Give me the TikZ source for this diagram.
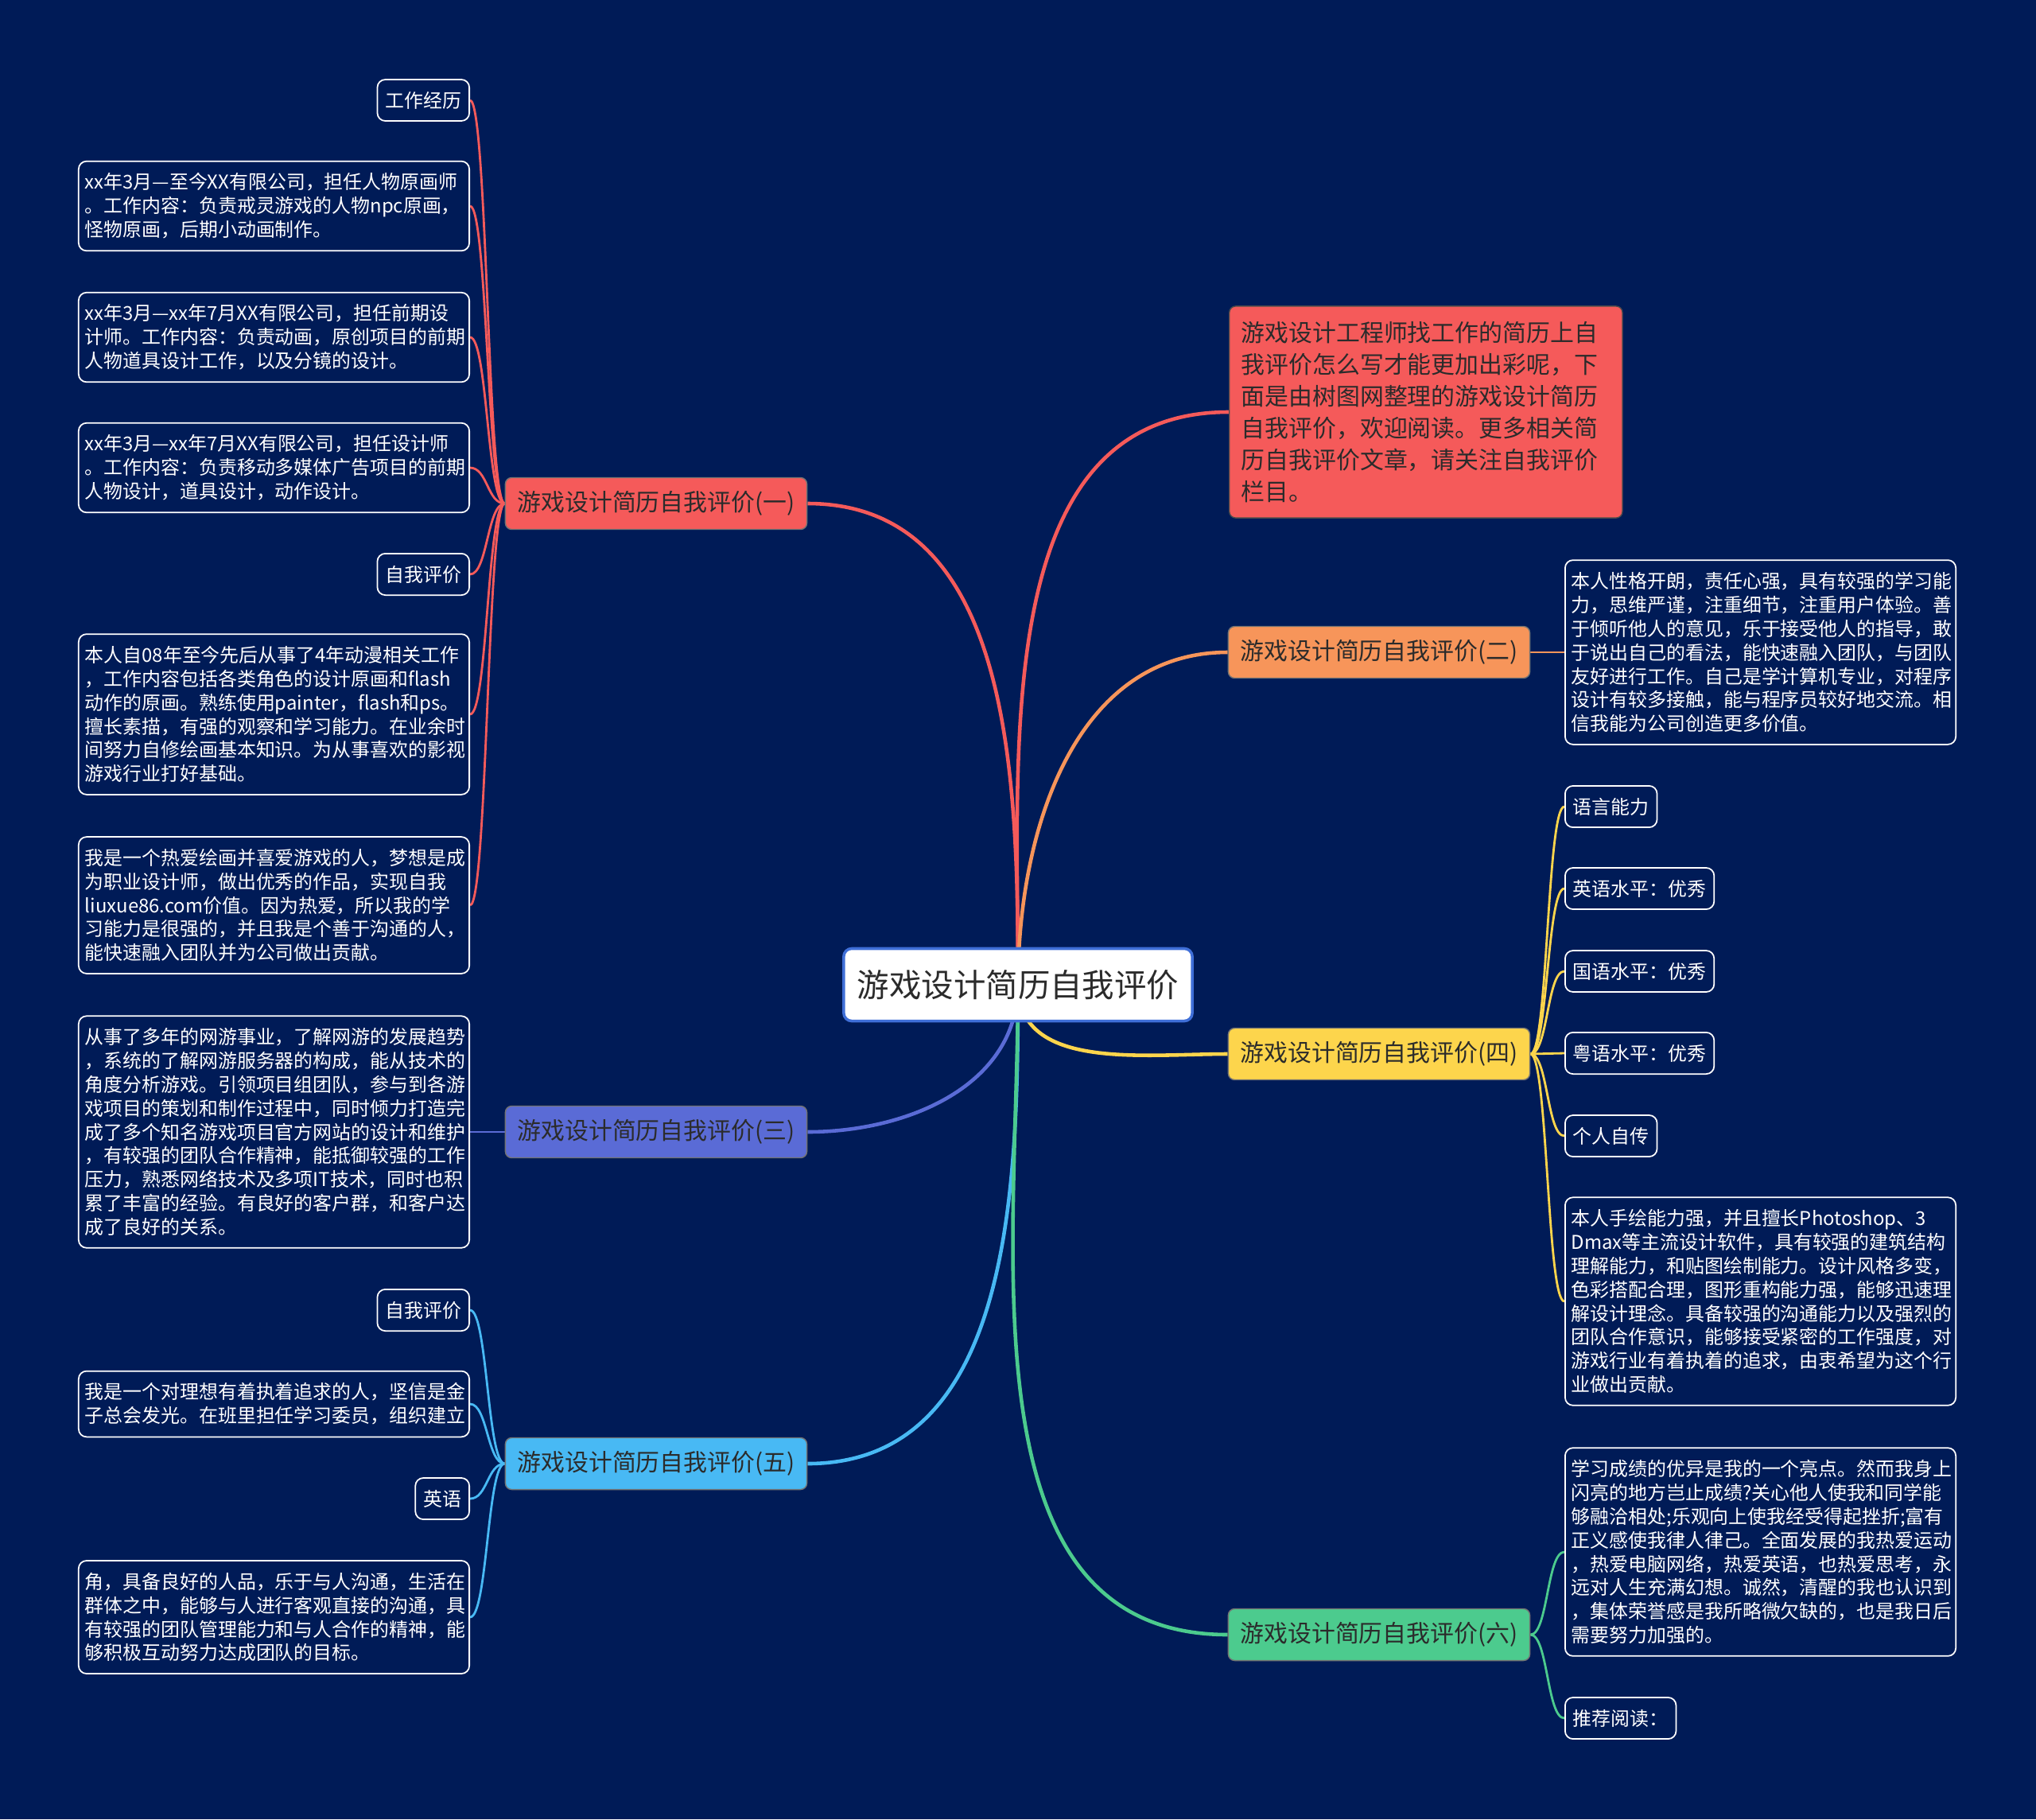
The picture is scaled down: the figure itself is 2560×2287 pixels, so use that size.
\documentclass[tikz,border=0pt]{standalone}
\usepackage{fontspec}
\setmainfont{Noto Sans CJK SC}
\usepackage{xcolor}
\definecolor{bgnavy}{HTML}{001B57}
\definecolor{secred}{HTML}{F55A5A}
\definecolor{secorange}{HTML}{F7955A}
\definecolor{secindigo}{HTML}{5A6BD6}
\definecolor{secyellow}{HTML}{FDD54C}
\definecolor{secsky}{HTML}{48B9F4}
\definecolor{secgreen}{HTML}{4CCB8E}
\definecolor{rootblue}{HTML}{3F6FD8}
\definecolor{inkdark}{HTML}{2B2B2B}
\pgfdeclarelayer{back}
\pgfdeclarelayer{wires}
\pgfsetlayers{back,wires,main}

\begin{document}
\begin{tikzpicture}[x=0.01cm, y=-0.01cm,
    rootbox/.style={draw=rootblue, line width=1pt, fill=white, rounded corners=0.1cm, minimum width=4.38cm, minimum height=0.91cm, text=inkdark, font=\fontsize{11.5}{13}\selectfont},
    secbox/.style={fill=#1, draw=black!55, line width=0.4pt, rounded corners=0.08cm, minimum width=3.79cm, minimum height=0.65cm, text=inkdark, font=\fontsize{8.5}{10}\selectfont},
    introbox/.style={fill=secred, draw=black!70, line width=0.4pt, rounded corners=0.08cm, text width=4.64cm, minimum height=2.66cm, inner xsep=0.15cm, inner ysep=0.18cm, align=left, text=inkdark, font=\fontsize{8.5}{11.4}\selectfont},
    leaf/.style={draw=white, line width=0.5pt, fill=bgnavy, text=white, rounded corners=0.1cm, inner xsep=0.1cm, inner ysep=0.15cm, align=left, font=\fontsize{6.8}{8.5}\selectfont},
    wideleaf/.style={leaf, inner xsep=0.08cm, text width=4.75cm},
    trunk/.style={draw=#1, line width=1.3pt},
    twig/.style={draw=#1, line width=0.8pt}]
    \useasboundingbox (0,0) rectangle (2560,2287);
    \begin{pgfonlayer}{back}
        \fill[bgnavy] (0,0) rectangle (2560,2287);
    \end{pgfonlayer}

    % Centre and sections
    \node[rootbox] (root) at (1280,1238) {游戏设计简历自我评价};
    \node[introbox, anchor=west] (intro) at (1545,518) {游戏设计工程师找工作的简历上自\\我评价怎么写才能更加出彩呢，下\\面是由树图网整理的游戏设计简历\\自我评价，欢迎阅读。更多相关简\\历自我评价文章，请关注自我评价\\栏目。};
    \node[secbox=secred] (s1) at (825,633) {游戏设计简历自我评价(一)};
    \node[secbox=secorange] (s2) at (1734,820) {游戏设计简历自我评价(二)};
    \node[secbox=secindigo] (s3) at (825,1423) {游戏设计简历自我评价(三)};
    \node[secbox=secyellow] (s4) at (1734,1325) {游戏设计简历自我评价(四)};
    \node[secbox=secsky] (s5) at (825,1840) {游戏设计简历自我评价(五)};
    \node[secbox=secgreen] (s6) at (1734,2055) {游戏设计简历自我评价(六)};

    % Section one
    \node[leaf, anchor=east] (a1) at (591,126) {工作经历};
    \node[wideleaf, anchor=east] (a2) at (591,259) {xx年3月—至今XX有限公司，担任人物原画师\\。工作内容：负责戒灵游戏的人物npc原画，\\怪物原画，后期小动画制作。};
    \node[wideleaf, anchor=east] (a3) at (591,424) {xx年3月—xx年7月XX有限公司，担任前期设\\计师。工作内容：负责动画，原创项目的前期\\人物道具设计工作，以及分镜的设计。};
    \node[wideleaf, anchor=east] (a4) at (591,588) {xx年3月—xx年7月XX有限公司，担任设计师\\。工作内容：负责移动多媒体广告项目的前期\\人物设计，道具设计，动作设计。};
    \node[leaf, anchor=east] (a5) at (591,722) {自我评价};
    \node[wideleaf, anchor=east] (a6) at (591,898) {本人自08年至今先后从事了4年动漫相关工作\\，工作内容包括各类角色的设计原画和flash\\动作的原画。熟练使用painter，flash和ps。\\擅长素描，有强的观察和学习能力。在业余时\\间努力自修绘画基本知识。为从事喜欢的影视\\游戏行业打好基础。};
    \node[wideleaf, anchor=east] (a7) at (591,1138) {我是一个热爱绘画并喜爱游戏的人，梦想是成\\为职业设计师，做出优秀的作品，实现自我\\liuxue86.com价值。因为热爱，所以我的学\\习能力是很强的，并且我是个善于沟通的人，\\能快速融入团队并为公司做出贡献。};

    % Section two
    \node[wideleaf, anchor=west] (b1) at (1967,820) {本人性格开朗，责任心强，具有较强的学习能\\力，思维严谨，注重细节，注重用户体验。善\\于倾听他人的意见，乐于接受他人的指导，敢\\于说出自己的看法，能快速融入团队，与团队\\友好进行工作。自己是学计算机专业，对程序\\设计有较多接触，能与程序员较好地交流。相\\信我能为公司创造更多价值。};

    % Section three
    \node[wideleaf, anchor=east] (c1) at (591,1423) {从事了多年的网游事业，了解网游的发展趋势\\，系统的了解网游服务器的构成，能从技术的\\角度分析游戏。引领项目组团队，参与到各游\\戏项目的策划和制作过程中，同时倾力打造完\\成了多个知名游戏项目官方网站的设计和维护\\，有较强的团队合作精神，能抵御较强的工作\\压力，熟悉网络技术及多项IT技术，同时也积\\累了丰富的经验。有良好的客户群，和客户达\\成了良好的关系。};

    % Section four
    \node[leaf, anchor=west] (d1) at (1967,1014) {语言能力};
    \node[leaf, anchor=west] (d2) at (1967,1117) {英语水平：优秀};
    \node[leaf, anchor=west] (d3) at (1967,1221) {国语水平：优秀};
    \node[leaf, anchor=west] (d4) at (1967,1324) {粤语水平：优秀};
    \node[leaf, anchor=west] (d5) at (1967,1428) {个人自传};
    \node[wideleaf, anchor=west] (d6) at (1967,1636) {本人手绘能力强，并且擅长Photoshop、3\\Dmax等主流设计软件，具有较强的建筑结构\\理解能力，和贴图绘制能力。设计风格多变，\\色彩搭配合理，图形重构能力强，能够迅速理\\解设计理念。具备较强的沟通能力以及强烈的\\团队合作意识，能够接受紧密的工作强度，对\\游戏行业有着执着的追求，由衷希望为这个行\\业做出贡献。};

    % Section five
    \node[leaf, anchor=east] (e1) at (591,1647) {自我评价};
    \node[wideleaf, anchor=east] (e2) at (591,1765) {我是一个对理想有着执着追求的人，坚信是金\\子总会发光。在班里担任学习委员，组织建立};
    \node[leaf, anchor=east] (e3) at (591,1884) {英语};
    \node[wideleaf, anchor=east] (e4) at (591,2033) {角，具备良好的人品，乐于与人沟通，生活在\\群体之中，能够与人进行客观直接的沟通，具\\有较强的团队管理能力和与人合作的精神，能\\够积极互动努力达成团队的目标。};

    % Section six
    \node[wideleaf, anchor=west] (f1) at (1967,1951) {学习成绩的优异是我的一个亮点。然而我身上\\闪亮的地方岂止成绩?关心他人使我和同学能\\够融洽相处;乐观向上使我经受得起挫折;富有\\正义感使我律人律己。全面发展的我热爱运动\\，热爱电脑网络，热爱英语，也热爱思考，永\\远对人生充满幻想。诚然，清醒的我也认识到\\，集体荣誉感是我所略微欠缺的，也是我日后\\需要努力加强的。};
    \node[leaf, anchor=west] (f2) at (1967,2160) {推荐阅读：};

    \begin{pgfonlayer}{wires}
        % Root to sections
        \draw[trunk=secred] (root.center) to[out=90,in=180] (intro.west);
        \draw[trunk=secred] (root.center) to[out=90,in=0] (s1.east);
        \draw[trunk=secorange] (root.center) to[out=90,in=180] (s2.west);
        \draw[trunk=secindigo] (root.center) to[out=-90,in=0] (s3.east);
        \draw[trunk=secyellow] (root.center) to[out=-90,in=180] (s4.west);
        \draw[trunk=secsky] (root.center) to[out=-90,in=0] (s5.east);
        \draw[trunk=secgreen] (root.center) to[out=-90,in=180] (s6.west);

        % Sections to details
        \foreach \leafname in {a1,a2,a3,a4,a5,a6,a7}
            \draw[twig=secred] (s1.west) .. controls +(-22,0) and +(22,0) .. (\leafname.east);
        \draw[twig=secorange] (s2.east) -- (b1.west);
        \draw[twig=secindigo] (s3.west) -- (c1.east);
        \foreach \leafname in {d1,d2,d3,d4,d5,d6}
            \draw[twig=secyellow] (s4.east) .. controls +(22,0) and +(-22,0) .. (\leafname.west);
        \foreach \leafname in {e1,e2,e3,e4}
            \draw[twig=secsky] (s5.west) .. controls +(-22,0) and +(22,0) .. (\leafname.east);
        \foreach \leafname in {f1,f2}
            \draw[twig=secgreen] (s6.east) .. controls +(22,0) and +(-22,0) .. (\leafname.west);
    \end{pgfonlayer}
\end{tikzpicture}
\end{document}
